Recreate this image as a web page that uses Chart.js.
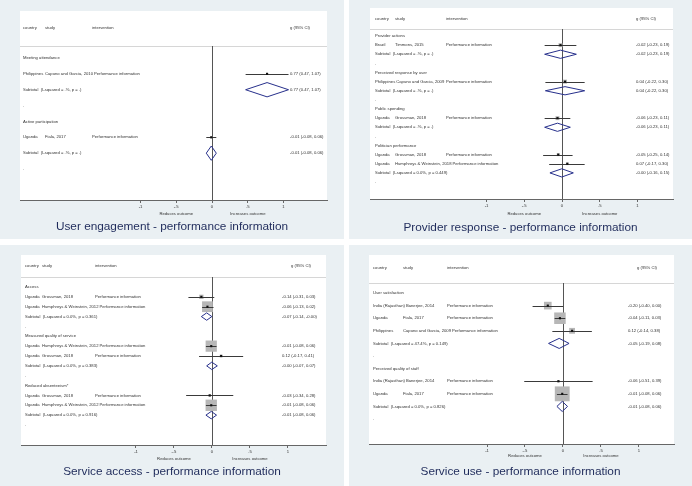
<!DOCTYPE html>
<html>
<head>
<meta charset="utf-8">
<script src="https://cdn.jsdelivr.net/npm/chart.js@4.4.0/dist/chart.umd.min.js"></script>
<style>
html, body { margin: 0; padding: 0; background: #fff; width: 692px; height: 486px; overflow: hidden; }
canvas { position: absolute; }
</style>
</head>
<body>
<canvas id="c1" width="344" height="239" style="left:0px;top:0px"></canvas>
<canvas id="c2" width="343" height="239" style="left:349px;top:0px"></canvas>
<canvas id="c3" width="344" height="241" style="left:0px;top:245px"></canvas>
<canvas id="c4" width="343" height="241" style="left:349px;top:245px"></canvas>
<script>
// shared axis
const xTicks = [-1, -0.5, 0, 0.5, 1];
const xTickLabels = ['-1', '-.5', '0', '.5', '1'];

// user engagement
const ueGroups = ['Meeting attendance', 'Active participation'];
const ueGroupOf = [0, 1];
const ueCountry = ['Philippines', 'Uganda'];
const ueStudy = ['Capuno and Garcia, 2010', 'Fiala, 2017'];
const ueEffect = [0.77, -0.01];
const ueLower = [0.47, -0.08];
const ueUpper = [1.07, 0.06];
const ueWeight = [100, 100];
const ueSubEffect = [0.77, -0.01];
const ueSubLower = [0.47, -0.08];
const ueSubUpper = [1.07, 0.06];
const ueI2 = [null, null];
const ueP = [null, null];

// provider response
const prGroups = ['Provider actions', 'Perceived response by user', 'Public spending', 'Politician performance'];
const prGroupOf = [0, 1, 2, 3, 3];
const prCountry = ['Brazil', 'Philippines', 'Uganda', 'Uganda', 'Uganda'];
const prStudy = ['Timmons, 2015', 'Capuno and Garcia, 2009', 'Grossman, 2018', 'Grossman, 2018', 'Humphreys & Weinstein, 2018'];
const prEffect = [-0.02, 0.04, -0.06, -0.05, 0.07];
const prLower = [-0.23, -0.22, -0.23, -0.25, -0.17];
const prUpper = [0.19, 0.30, 0.11, 0.14, 0.30];
const prWeight = [100, 100, 100, 55, 45];
const prSubEffect = [-0.02, 0.04, -0.06, -0.003];
const prSubLower = [-0.23, -0.22, -0.23, -0.16];
const prSubUpper = [0.19, 0.30, 0.11, 0.15];
const prI2 = [null, null, null, 0.0];
const prP = [null, null, null, 0.449];

// service access
const saGroups = ['Access', 'Measured quality of service', 'Reduced absenteeism*'];
const saGroupOf = [0, 0, 1, 1, 2, 2];
const saCountry = ['Uganda', 'Uganda', 'Uganda', 'Uganda', 'Uganda', 'Uganda'];
const saStudy = ['Grossman, 2018', 'Humphreys & Weinstein, 2012', 'Humphreys & Weinstein, 2012', 'Grossman, 2018', 'Grossman, 2018', 'Humphreys & Weinstein, 2012'];
const saEffect = [-0.14, -0.06, -0.01, 0.12, -0.03, -0.01];
const saLower = [-0.31, -0.13, -0.08, -0.17, -0.34, -0.08];
const saUpper = [0.03, 0.02, 0.06, 0.41, 0.28, 0.06];
const saWeight = [14, 86, 94, 6, 4, 96];
const saSubEffect = [-0.07, -0.003, -0.01];
const saSubLower = [-0.14, -0.07, -0.08];
const saSubUpper = [-0.002, 0.07, 0.06];
const saI2 = [0.0, 0.0, 0.0];
const saP = [0.361, 0.383, 0.916];

// service use
const suGroups = ['User satisfaction', 'Perceived quality of staff'];
const suGroupOf = [0, 0, 0, 1, 1];
const suCountry = ['India (Rajasthan)', 'Uganda', 'Philippines', 'India (Rajasthan)', 'Uganda'];
const suStudy = ['Banerjee, 2014', 'Fiala, 2017', 'Capuno and Garcia, 2009', 'Banerjee, 2014', 'Fiala, 2017'];
const suEffect = [-0.20, -0.04, 0.12, -0.06, -0.01];
const suLower = [-0.40, -0.11, -0.14, -0.51, -0.08];
const suUpper = [0.003, 0.03, 0.38, 0.39, 0.06];
const suWeight = [26, 59, 15, 2, 98];
const suSubEffect = [-0.05, -0.01];
const suSubLower = [-0.19, -0.08];
const suSubUpper = [0.08, 0.06];
const suI2 = [47.4, 0.0];
const suP = [0.149, 0.826];

const CARD = '#eaf0f3';
const TEXT = '#333';
const NAVY = '#27308c';
const SMALL = '4.2px "Liberation Sans", Arial, sans-serif';
const TITLE = '11.8px "Liberation Sans", Arial, sans-serif';

function fmt(v) {
    return (v < 0 ? '-' : '') + Math.abs(v).toFixed(2);
}
function ciText(e, l, u) {
    return fmt(e) + ' (' + fmt(l) + ', ' + fmt(u) + ')';
}
function hetText(i2, p) {
    return '(I-squared = ' + (i2 === null ? '.' : i2.toFixed(1)) + '%, p = ' + (p === null ? '.' : p.toFixed(3)) + ')';
}

function buildRows(d) {
    const rows = [];
    let r = 0;
    d.groups.forEach((g, gi) => {
        rows.push({ type: 'group', row: r++, label: g });
        d.groupOf.forEach((gg, i) => {
            if (gg === gi) rows.push({ type: 'study', row: r++, i: i });
        });
        rows.push({ type: 'sub', row: r++, gi: gi });
        rows.push({ type: 'dot', row: r++ });
    });
    return rows;
}

function makePanel(p) {
    const d = p.data;
    const rows = buildRows(d);
    const studyRows = rows.filter(r => r.type === 'study');

    const boxes = studyRows.map(r => ({ x: d.effect[r.i], y: r.row }));
    const boxRadius = studyRows.map(r => p.boxScale * Math.sqrt(d.weight[r.i]) / Math.SQRT2);
    const dots = studyRows.map(r => ({ x: d.effect[r.i], y: r.row }));

    const forest = {
        id: 'forest',
        beforeDraw(chart) {
            const c = chart.ctx, a = chart.chartArea;
            c.save();
            c.fillStyle = CARD;
            c.fillRect(0, 0, chart.width, chart.height);
            c.fillStyle = '#fff';
            c.fillRect(a.left, p.whiteTop, a.right - a.left, a.bottom - p.whiteTop);
            c.strokeStyle = '#d6d6d6';
            c.lineWidth = 1;
            c.beginPath();
            c.moveTo(a.left, Math.round(a.top) + 0.5);
            c.lineTo(a.right, Math.round(a.top) + 0.5);
            c.stroke();
            c.restore();
        },
        beforeDatasetsDraw(chart) {
            const c = chart.ctx, a = chart.chartArea;
            const xs = chart.scales.x, ys = chart.scales.y;
            c.save();
            // header
            c.font = SMALL;
            c.fillStyle = TEXT;
            c.textBaseline = 'middle';
            c.textAlign = 'left';
            c.fillText('country', p.cols[0], p.headerY);
            c.fillText('study', p.cols[1], p.headerY);
            c.fillText('intervention', p.cols[2], p.headerY);
            c.fillText('g (95% CI)', p.cols[3], p.headerY);
            // table rows
            rows.forEach(r => {
                const y = ys.getPixelForValue(r.row);
                if (r.type === 'group') {
                    c.fillText(r.label, p.cols[0], y);
                } else if (r.type === 'dot') {
                    c.fillText('.', p.cols[0], y);
                } else if (r.type === 'sub') {
                    c.fillText('Subtotal  ' + hetText(d.i2[r.gi], d.p[r.gi]), p.cols[0], y);
                    c.fillText(ciText(d.subEffect[r.gi], d.subLower[r.gi], d.subUpper[r.gi]), p.valCol, y);
                } else {
                    const parts = [d.country[r.i], d.study[r.i], 'Performance information'];
                    let end = 0;
                    parts.forEach((t, k) => {
                        const x = Math.max(p.cols[k], end + 1);
                        c.fillText(t, x, y);
                        end = x + c.measureText(t).width;
                    });
                    c.fillText(ciText(d.effect[r.i], d.lower[r.i], d.upper[r.i]), p.valCol, y);
                }
            });
            // no-effect line
            const x0 = Math.round(xs.getPixelForValue(0)) + 0.5;
            c.strokeStyle = '#555';
            c.lineWidth = 1;
            c.beginPath();
            c.moveTo(x0, a.top);
            c.lineTo(x0, a.bottom);
            c.stroke();
            // axis captions
            const yb = a.bottom;
            c.textAlign = 'center';
            c.fillText('Reduces outcome', xs.getPixelForValue(-0.5), yb + p.captionDy);
            c.fillText('Increases outcome', xs.getPixelForValue(0.5), yb + p.captionDy);
            // title
            c.font = TITLE;
            c.fillStyle = '#1f2b5b';
            c.fillText(p.title, chart.width / 2, p.titleY);
            c.restore();
        },
        afterDatasetDraw(chart, args) {
            if (args.index !== 0) return;
            const c = chart.ctx;
            const xs = chart.scales.x, ys = chart.scales.y;
            c.save();
            c.strokeStyle = '#3a3a3a';
            c.lineWidth = 1;
            studyRows.forEach(r => {
                const y = Math.round(ys.getPixelForValue(r.row)) + 0.5;
                c.beginPath();
                c.moveTo(xs.getPixelForValue(d.lower[r.i]), y);
                c.lineTo(xs.getPixelForValue(d.upper[r.i]), y);
                c.stroke();
            });
            c.restore();
        },
        afterDatasetsDraw(chart) {
            const c = chart.ctx;
            const xs = chart.scales.x, ys = chart.scales.y;
            c.save();
            c.strokeStyle = NAVY;
            c.lineWidth = 1;
            rows.filter(r => r.type === 'sub').forEach(r => {
                const yc = ys.getPixelForValue(r.row);
                const yt = ys.getPixelForValue(r.row - p.diamond / 2);
                const yb = ys.getPixelForValue(r.row + p.diamond / 2);
                c.beginPath();
                c.moveTo(xs.getPixelForValue(d.subLower[r.gi]), yc);
                c.lineTo(xs.getPixelForValue(d.subEffect[r.gi]), yt);
                c.lineTo(xs.getPixelForValue(d.subUpper[r.gi]), yc);
                c.lineTo(xs.getPixelForValue(d.subEffect[r.gi]), yb);
                c.closePath();
                c.stroke();
            });
            c.restore();
        }
    };

    new Chart(document.getElementById(p.id), {
        type: 'scatter',
        data: {
            datasets: [
                { data: boxes, pointStyle: 'rect', pointRadius: boxRadius, backgroundColor: '#b7b7b7', borderWidth: 0, order: 2 },
                { data: dots, pointStyle: 'rect', pointRadius: 1.5, backgroundColor: '#111', borderWidth: 0, order: 1 }
            ]
        },
        options: {
            responsive: false,
            animation: false,
            events: [],
            layout: { padding: p.pad },
            plugins: { legend: { display: false }, tooltip: { enabled: false } },
            scales: {
                x: {
                    type: 'linear',
                    min: p.xMin,
                    max: p.xMax,
                    afterBuildTicks: s => { s.ticks = xTicks.map(v => ({ value: v })); },
                    afterFit: s => { s.height = 14; },
                    ticks: {
                        autoSkip: false,
                        maxRotation: 0,
                        padding: 1,
                        color: TEXT,
                        font: { size: 4.2, family: '"Liberation Sans", Arial, sans-serif' },
                        callback: v => xTickLabels[xTicks.indexOf(v)]
                    },
                    grid: { drawOnChartArea: false, drawTicks: true, tickLength: 3, color: '#666' },
                    border: { display: true, color: '#666', width: 1 }
                },
                y: {
                    type: 'linear',
                    display: false,
                    reverse: true,
                    min: p.yMin,
                    max: p.yMax
                }
            }
        },
        plugins: [forest]
    });
}

makePanel({
    id: 'c1', title: 'User engagement - performance information',
    data: { groups: ueGroups, groupOf: ueGroupOf, country: ueCountry, study: ueStudy, effect: ueEffect, lower: ueLower, upper: ueUpper, weight: ueWeight, subEffect: ueSubEffect, subLower: ueSubLower, subUpper: ueSubUpper, i2: ueI2, p: ueP },
    xMin: -2.685, xMax: 1.608, yMin: -0.757, yMax: 8.953,
    pad: { left: 20, right: 17, top: 46, bottom: 25 },
    whiteTop: 11, headerY: 28, cols: [23, 45, 92, 290], valCol: 290,
    boxScale: 0.2, diamond: 0.9, captionDy: 14, titleY: 227
});
makePanel({
    id: 'c2', title: 'Provider response - performance information',
    data: { groups: prGroups, groupOf: prGroupOf, country: prCountry, study: prStudy, effect: prEffect, lower: prLower, upper: prUpper, weight: prWeight, subEffect: prSubEffect, subLower: prSubLower, subUpper: prSubUpper, i2: prI2, p: prP },
    xMin: -2.543, xMax: 1.470, yMin: -0.767, yMax: 17.86,
    pad: { left: 21, right: 19, top: 29, bottom: 26 },
    whiteTop: 8, headerY: 19, cols: [26, 46, 97, 287], valCol: 287,
    boxScale: 0.4, diamond: 0.9, captionDy: 15, titleY: 228
});
makePanel({
    id: 'c3', title: 'Service access - performance information',
    data: { groups: saGroups, groupOf: saGroupOf, country: saCountry, study: saStudy, effect: saEffect, lower: saLower, upper: saUpper, weight: saWeight, subEffect: saSubEffect, subLower: saSubLower, subUpper: saSubUpper, i2: saI2, p: saP },
    xMin: -2.513, xMax: 1.5, yMin: -1.014, yMax: 16.03,
    pad: { left: 21, right: 18, top: 32, bottom: 27 },
    whiteTop: 10, headerY: 21, cols: [25, 42, 95, 291], valCol: 282,
    boxScale: 1.16, diamond: 0.75, captionDy: 14, titleY: 227
});
makePanel({
    id: 'c4', title: 'Service use - performance information',
    data: { groups: suGroups, groupOf: suGroupOf, country: suCountry, study: suStudy, effect: suEffect, lower: suLower, upper: suUpper, weight: suWeight, subEffect: suSubEffect, subLower: suSubLower, subUpper: suSubUpper, i2: suI2, p: suP },
    xMin: -2.553, xMax: 1.461, yMin: -0.794, yMax: 11.98,
    pad: { left: 20, right: 18, top: 38, bottom: 28 },
    whiteTop: 10, headerY: 23, cols: [24, 54, 98, 288], valCol: 279,
    boxScale: 1.5, diamond: 0.8, captionDy: 12, titleY: 227
});
</script>
</body>
</html>
